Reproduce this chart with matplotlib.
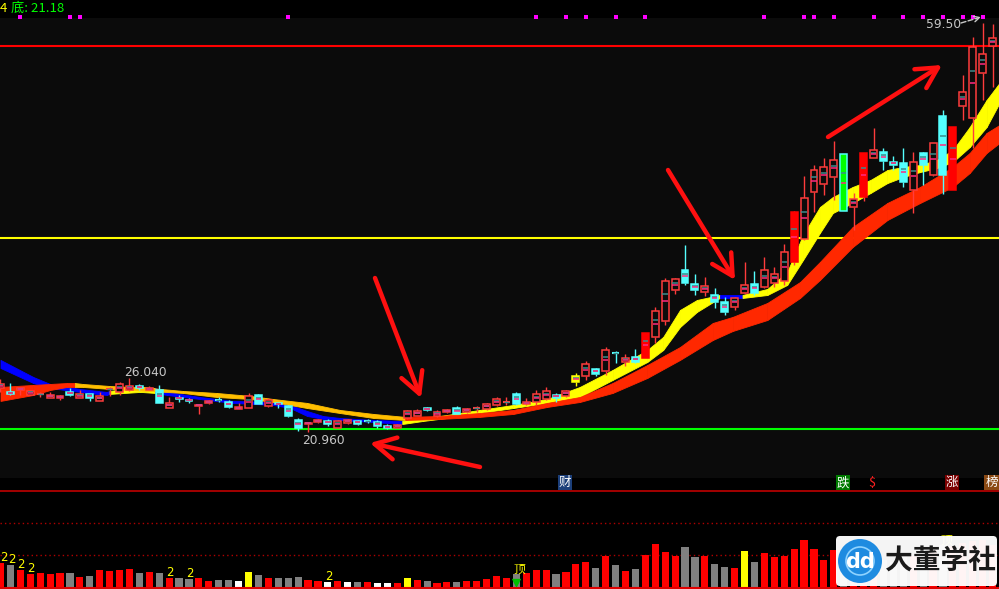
import matplotlib
matplotlib.use('Agg')
import matplotlib.pyplot as plt
from matplotlib.patches import Rectangle, FancyBboxPatch, Circle
from matplotlib.lines import Line2D
from matplotlib import font_manager as fm

# ---------------- data ----------------
opens = [25.08, 24.71, 24.89, 24.42, 24.52, 24.14, 24.14, 24.71, 24.14, 24.52,
         23.86, 24.99, 24.71, 24.89, 25.27, 24.89, 24.89, 23.19, 24.14, 23.95,
         23.38, 23.67, 23.95, 23.76, 23.10, 23.19, 24.42, 23.38, 23.62, 23.38,
         22.06, 21.68, 21.87, 21.97, 21.31, 21.78, 21.97, 21.97, 21.87, 21.50,
         21.31, 22.25, 22.44, 23.19, 22.44, 22.82, 23.19, 22.82, 23.15, 23.10,
         23.48, 23.76, 24.52, 23.57, 23.76, 24.04, 24.42, 24.33, 25.65, 26.22,
         26.88, 26.69, 28.39, 27.54, 28.01, 27.92, 29.90, 31.41, 34.33, 36.22,
         34.90, 34.15, 33.86, 33.20, 32.73, 34.05, 34.90, 34.62, 35.00, 35.18,
         36.98, 39.15, 43.59, 44.34, 45.00, 47.17, 42.17, 43.11, 46.80, 47.36,
         46.42, 46.32, 43.77, 47.27, 45.19, 50.76, 43.77, 51.70, 50.57, 54.82,
         57.37]
highs = [25.93, 25.55, 25.08, 24.85, 24.71, 24.71, 24.42, 25.08, 24.89, 24.55,
         24.71, 25.18, 25.65, 26.04, 25.46, 25.27, 25.37, 24.23, 24.42, 24.14,
         23.57, 23.95, 24.23, 23.95, 23.67, 24.61, 24.52, 24.14, 23.67, 23.48,
         22.25, 21.78, 22.16, 22.16, 22.06, 22.16, 22.06, 22.16, 22.06, 21.68,
         21.68, 23.01, 23.10, 23.29, 23.01, 23.10, 23.38, 23.19, 23.38, 23.67,
         24.23, 24.23, 24.71, 24.14, 24.89, 25.18, 24.61, 24.89, 26.50, 27.63,
         26.97, 28.95, 28.58, 28.29, 28.76, 30.28, 32.73, 35.47, 35.47, 38.58,
         35.84, 35.56, 34.52, 33.67, 33.67, 36.98, 36.13, 37.45, 36.51, 38.68,
         41.79, 45.10, 46.13, 46.80, 48.40, 47.17, 43.49, 47.27, 49.63, 47.74,
         46.98, 47.74, 47.36, 47.36, 48.21, 51.33, 49.72, 54.63, 58.22, 59.50,
         59.40]
lows = [24.71, 24.42, 24.42, 24.40, 24.23, 24.14, 23.95, 24.33, 24.10, 23.86,
        23.86, 24.33, 24.42, 24.80, 24.89, 24.89, 23.67, 23.19, 23.76, 23.67,
        22.63, 23.57, 23.76, 23.19, 23.10, 23.19, 23.57, 23.29, 23.19, 22.35,
        21.02, 20.96, 21.78, 21.50, 21.31, 21.68, 21.59, 21.78, 21.31, 21.21,
        21.31, 22.16, 22.44, 22.91, 22.35, 22.72, 22.63, 22.72, 22.82, 23.01,
        23.38, 23.48, 23.48, 23.48, 23.48, 23.95, 23.76, 24.23, 25.27, 25.84,
        26.22, 26.31, 27.44, 27.16, 27.44, 27.92, 29.33, 31.03, 33.96, 34.81,
        33.86, 33.77, 32.63, 31.97, 32.45, 33.96, 33.86, 34.52, 34.62, 34.81,
        36.69, 39.05, 41.70, 43.30, 42.83, 41.79, 40.00, 42.74, 46.80, 45.66,
        45.66, 44.06, 41.60, 44.25, 45.10, 43.40, 43.77, 50.38, 47.74, 52.27,
        53.50]
closes = [25.46, 24.52, 25.08, 24.80, 24.55, 24.42, 24.33, 24.42, 24.52, 24.14,
          24.33, 24.99, 25.46, 25.27, 25.08, 25.08, 23.67, 23.67, 24.04, 23.86,
          23.48, 23.86, 23.95, 23.29, 23.29, 24.33, 23.57, 23.95, 23.57, 22.44,
          21.31, 21.78, 22.06, 21.68, 21.97, 22.06, 21.68, 21.95, 21.50, 21.31,
          21.59, 22.91, 22.91, 23.01, 22.82, 23.01, 22.63, 23.10, 23.19, 23.57,
          24.04, 23.78, 23.57, 23.76, 24.52, 24.80, 24.14, 24.80, 26.22, 27.35,
          26.40, 28.67, 28.37, 27.92, 27.54, 30.28, 32.35, 35.18, 35.37, 35.00,
          34.33, 34.71, 33.20, 32.26, 33.58, 34.81, 34.05, 36.22, 35.84, 37.92,
          41.70, 43.02, 45.66, 45.95, 46.61, 41.79, 42.92, 47.27, 47.55, 46.51,
          46.13, 44.53, 46.42, 46.13, 48.21, 45.19, 49.72, 53.03, 57.27, 56.61,
          58.12]
# r = hollow red (up), c = cyan (down), R = solid red, g = green, y = yellow
candle_kind = list("rcrrrrrcrc" "rrrrcrcrcc" "rrccrrcrcc" "crrcrrcccc" "rrrcrrcrrr"
                   "rrcrrrcryr" "crcrcRrrrc" "crccrrcrrr" "RrrrrgrRrc" "ccrcrcRrrr" "r")

volumes = [24, 22, 17, 13, 14, 13, 14, 14, 10, 11,
           17, 16, 17, 18, 14, 15, 14, 9, 9, 8,
           9, 6, 7, 7, 6, 15, 12, 9, 9, 9,
           10, 7, 6, 5, 6, 5, 5, 5, 4, 4,
           4, 9, 7, 6, 4, 5, 5, 6, 6, 8,
           11, 9, 13, 14, 17, 17, 13, 15, 23, 25,
           19, 31, 22, 16, 18, 32, 43, 35, 31, 40,
           30, 31, 23, 20, 19, 36, 25, 34, 30, 31,
           38, 47, 38, 27, 37, 30, 27, 39, 35, 27,
           25, 32, 31, 27, 37, 42, 41, 44, 46, 47,
           42]
volume_kind = list("rgrrrrrgrg" "rrrrgrgrgg" "rrggwygrgg" "grrwrwgrww" "ryrgrrgrrr"
                   "rrgrrrgrrr" "grgrgrrrrg" "grggrygrrr" "rrrrrgrrrg" "ggrgrgrrrr" "r")

# fast band (yellow rising / blue falling)
fast_x = [0.0, 3.3, 5.0, 8.0, 10.7, 11.0, 14.1, 15.6, 16.8, 20.1, 23.4, 27.5, 29.2, 30.9, 32.5,
          34.2, 37.6, 40.5, 42.6, 45.0, 48.3, 51.7, 55.1, 58.4, 61.7, 65.2, 66.8, 68.5, 70.2,
          72.5, 74.8, 77.3, 79.3, 80.9, 82.6, 83.9, 85.9, 87.7, 89.4, 91.0, 92.7, 94.4, 96.0,
          97.7, 99.4, 100.7]
fast_hi = [27.73, 26.12, 25.46, 24.99, 24.71, 24.80, 25.18, 25.08, 24.71, 24.23, 23.86, 23.76,
           23.48, 22.91, 22.44, 22.25, 22.06, 21.97, 22.25, 22.53, 23.01, 23.48, 24.04, 25.18,
           26.78, 28.67, 29.90, 32.45, 33.39, 33.86, 33.86, 34.43, 36.03, 39.53, 42.17, 43.11,
           44.06, 44.72, 45.66, 45.95, 46.13, 46.61, 47.55, 49.72, 52.27, 53.88]
fast_lo = [26.97, 25.55, 25.08, 24.71, 24.42, 24.52, 24.71, 24.61, 24.42, 24.04, 23.67, 23.48,
           23.19, 22.44, 22.16, 22.06, 21.87, 21.68, 21.97, 22.25, 22.72, 23.19, 23.67, 24.23,
           25.84, 27.54, 28.67, 30.84, 32.26, 33.58, 33.58, 33.86, 34.81, 37.17, 39.72, 41.60,
           42.55, 43.49, 44.43, 45.00, 45.47, 45.85, 46.42, 47.83, 49.72, 51.99]
fast_trend = list("bbbbb" "yy" "bbbbbbbbbb" "yyyyyyyyyyyy" "b" "yyyyyyyyyyyyyyy")

# slow band (red rising / gold falling)
slow_x = [0.0, 3.3, 5.0, 6.7, 7.5, 8.3, 11.0, 15.1, 18.4, 21.8, 25.2, 27.5, 30.9, 34.2, 37.6,
          40.8, 44.3, 48.3, 51.7, 55.1, 58.4, 61.7, 65.2, 68.5, 71.8, 73.8, 77.3, 80.6, 82.6,
          85.9, 89.4, 92.7, 96.0, 97.7, 99.4, 100.7]
slow_hi = [25.18, 25.37, 25.46, 25.55, 25.55, 25.46, 25.27, 25.08, 24.80, 24.61, 24.33, 24.04,
           23.67, 23.01, 22.63, 22.35, 22.44, 22.72, 23.01, 23.67, 24.23, 25.55, 27.25, 28.95,
           31.22, 31.79, 33.11, 35.09, 36.98, 40.28, 42.55, 44.06, 45.95, 47.27, 49.16, 49.91]
slow_lo = [23.86, 24.42, 24.89, 25.18, 25.18, 25.18, 24.99, 24.80, 24.61, 24.23, 24.04, 23.76,
           23.19, 22.72, 22.25, 22.06, 22.16, 22.35, 22.63, 23.29, 23.76, 24.61, 26.03, 27.73,
           29.61, 30.46, 31.50, 33.58, 35.28, 38.39, 40.94, 42.55, 44.06, 45.38, 47.27, 48.21]
slow_trend = list("rrrr" "ooooooooooo" "rrrrrrrrrrrrrrrrrrrr")

top_level = 57.36
bottom_level = 21.18
mid_level = 39.27

signal_idx = [2, 7, 8, 29, 54, 57, 59, 62, 65, 77, 81, 82, 84, 88, 91, 93, 95, 97, 98, 99]
two_idx = [0, 1, 2, 3, 17, 19, 33]
ding_idx = [52, 95]
event_idx = [57, 85, 88, 96, 100]
event_text = ['财', '跌', '$', '涨', '榜']
high_label, low_label, peak_label = '26.040', '20.960', '59.50'
header_num = '21.18'

# ---------------- figure ----------------
W, H = 999, 589
names = {f.name for f in fm.fontManager.ttflist}
NUMF = 'Liberation Sans Narrow' if 'Liberation Sans Narrow' in names else 'DejaVu Sans'
NUMSIZE = 10.5 if NUMF != 'DejaVu Sans' else 8.8
CJK = ['Noto Sans CJK SC', 'DejaVu Sans']

fig = plt.figure(figsize=(W / 100, H / 100), dpi=100, facecolor='black')
fig.patches.append(Rectangle((0, (H - 478) / H), 1, 460 / H, transform=fig.transFigure,
                             facecolor='#0B0B0B', edgecolor='none', zorder=-10))

XL = (-0.05, 100.65)
ax = fig.add_axes([0, (H - 490) / H, 1, 490 / H])
ax.set_xlim(*XL)
ax.set_ylim(15.45, 61.71)
ax.axis('off')
ax.patch.set_visible(False)

# horizontal levels
ax.axhline(top_level, color='#FF0000', lw=1.5, zorder=1)
ax.axhline(mid_level, color='#FFFF00', lw=1.5, zorder=1)
ax.axhline(bottom_level, color='#00FF00', lw=1.5, zorder=1)

# bands
fc_map = {'b': '#0000FF', 'y': '#FFFF00', 'r': '#FF2800', 'o': '#FFBE00'}
for k in range(len(fast_x) - 1):
    c = fc_map[fast_trend[k]]
    ax.fill_between(fast_x[k:k + 2], fast_lo[k:k + 2], fast_hi[k:k + 2], facecolor=c,
                    edgecolor=c, lw=0.6, zorder=2)
for k in range(len(slow_x) - 1):
    c = fc_map[slow_trend[k]]
    ax.fill_between(slow_x[k:k + 2], slow_lo[k:k + 2], slow_hi[k:k + 2], facecolor=c,
                    edgecolor=c, lw=0.6, zorder=2.1)

# candles
bw = 0.7
style = {
    'r': ('#0B0B0B', '#FF3C3C', '#FF3C3C'),
    'c': ('#54FFFF', '#54FFFF', '#54FFFF'),
    'R': ('#FF0000', '#FF0000', '#FF3C3C'),
    'g': ('#00FF00', '#54FFFF', '#54FFFF'),
    'y': ('#FFFF00', '#FFFF00', '#FFFF00'),
}
for i, (o, h, l, c, k) in enumerate(zip(opens, highs, lows, closes, candle_kind)):
    face, edge, wick = style[k]
    lo, hi = min(o, c), max(o, c)
    ax.vlines(i, l, lo, color=wick, lw=1.0, zorder=3)
    ax.vlines(i, hi, h, color=wick, lw=1.0, zorder=3)
    if hi - lo < 0.05:
        ax.hlines((hi + lo) / 2, i - bw / 2, i + bw / 2, color=wick, lw=1.5, zorder=4)
        ax.hlines((hi + lo) / 2, i - bw / 2 + 0.1, i + bw / 2 - 0.1, color='#3C8C8C', lw=1.0, zorder=4)
    else:
        ax.add_patch(Rectangle((i - bw / 2, lo), bw, hi - lo, facecolor=face, edgecolor=edge,
                               lw=1.1, zorder=4))
        ax.hlines(hi - (hi - lo) / 3, i - bw / 2 + 0.08, i + bw / 2 - 0.08, color='#3C8C8C',
                  lw=1.1, zorder=5)
        ax.hlines((hi + lo) / 2, i - bw / 2 + 0.08, i + bw / 2 - 0.08, color='#FF2A80',
                  lw=1.1, zorder=5)

# signal dots
ax.scatter(signal_idx, [60.10] * len(signal_idx), marker='s', s=9, color='#FF00FF',
           lw=0, zorder=6)

# high / low labels
ax.text(14.6, 26.50, high_label, color='#C8C8C8', fontsize=NUMSIZE, family=NUMF,
        ha='center', va='center', zorder=7)
ax.text(32.6, 20.17, low_label, color='#C8C8C8', fontsize=NUMSIZE, family=NUMF,
        ha='center', va='center', zorder=7)
ax.text(95.05, 59.35, peak_label, color='#C8C8C8', fontsize=NUMSIZE, family=NUMF,
        ha='center', va='center', zorder=7)

# event tags
tag_bg = {'财': '#1C3F7A', '跌': '#007A00', '$': None, '涨': '#7A0000', '榜': '#8B4A14'}
for idx, t in zip(event_idx, event_text):
    bg = tag_bg[t]
    if bg is None:
        ax.text(idx - 0.2, 16.12, t, color='#FF2020', fontsize=9, family=CJK,
                ha='center', va='center', zorder=7)
    else:
        ax.text(idx - 0.1, 16.12, t, color='white', fontsize=9, family=CJK,
                ha='center', va='center', zorder=7,
                bbox=dict(boxstyle='square,pad=0.08', fc=bg, ec='none'))

# ---------------- volume ----------------
vax = fig.add_axes([0, (H - 587) / H, 1, 96 / H])
vax.set_xlim(*XL)
vax.set_ylim(0, 96)
vax.axis('off')
vax.patch.set_visible(False)
vcol = {'r': '#FF0000', 'g': '#808080', 'w': '#FFFFFF', 'y': '#FFFF00'}
vax.bar(range(len(volumes)), volumes, width=0.72, color=[vcol[k] for k in volume_kind],
        lw=0, zorder=2)
for lv in (32, 64):
    vax.axhline(lv, color='#B00000', lw=1.0, ls=(0, (1, 2.2)), zorder=1)
for idx in two_idx:
    if idx == 0:
        vax.text(0.0, volumes[idx] - 1, '2', color='#FFFF00', fontsize=8.5, family=NUMF,
                 ha='left', va='bottom', zorder=4)
    else:
        vax.text(idx + 0.1, volumes[idx] - 1, '2', color='#FFFF00', fontsize=8.5,
                 family=NUMF, ha='center', va='bottom', zorder=4)
for idx in ding_idx:
    vax.text(idx + 0.3, volumes[idx] - 2, '顶', color='#FFFF00', fontsize=8.5, family=CJK,
             ha='center', va='bottom', zorder=4)
vax.scatter([ding_idx[0]], [4], marker='v', s=45, color='#00C000', lw=0, zorder=5)

fig.add_artist(Line2D([0, 1], [(H - 491) / H] * 2, transform=fig.transFigure,
                      color='#C00000', lw=1.2))
fig.add_artist(Line2D([0, 1], [(H - 588) / H] * 2, transform=fig.transFigure,
                      color='#E00000', lw=1.5))

# ---------------- overlay (annotations) ----------------
ov = fig.add_axes([0, 0, 1, 1], zorder=10)
ov.set_xlim(0, W)
ov.set_ylim(H, 0)
ov.axis('off')
ov.patch.set_visible(False)

ov.text(0, 8, '4', color='#FFFF00', fontsize=9.5, family=CJK, ha='left', va='center')
ov.text(11, 8, '底: ' + header_num, color='#00FF00', fontsize=9.5, family=CJK,
        ha='left', va='center')

arrows = [((375, 278), (421, 398)), ((480, 467), (370, 443)),
          ((668, 170), (735, 280)), ((828, 137), (942, 65))]
for tail, head in arrows:
    ov.annotate('', xy=head, xytext=tail,
                arrowprops=dict(arrowstyle='->,head_length=0.75,head_width=0.4',
                                color='#FF1010', lw=3.2, mutation_scale=20,
                                shrinkA=0, shrinkB=0))
ov.annotate('', xy=(981, 17), xytext=(961, 23),
            arrowprops=dict(arrowstyle='->', color='#C8C8C8', lw=1.0, ls='--',
                            shrinkA=0, shrinkB=0))

# watermark
ov.add_patch(FancyBboxPatch((836, 536), 161, 50, boxstyle='round,pad=0,rounding_size=4',
                            fc='white', ec='none', alpha=0.96, zorder=20))
ov.add_patch(Circle((860, 561), 22, fc='#1E8BE0', ec='none', zorder=21))
ov.add_patch(Circle((860, 561), 14, fc='none', ec='#8FD3FF', lw=1.2, zorder=21))
ov.text(860, 562, 'dd', color='white', fontsize=15, fontweight='bold', ha='center',
        va='center', zorder=22)
ov.text(941, 562, '大董学社', color='#1A1A1A', fontsize=20, fontweight='bold', family=CJK,
        ha='center', va='center', zorder=22)

fig.savefig('out.png', dpi=100, facecolor='black')
